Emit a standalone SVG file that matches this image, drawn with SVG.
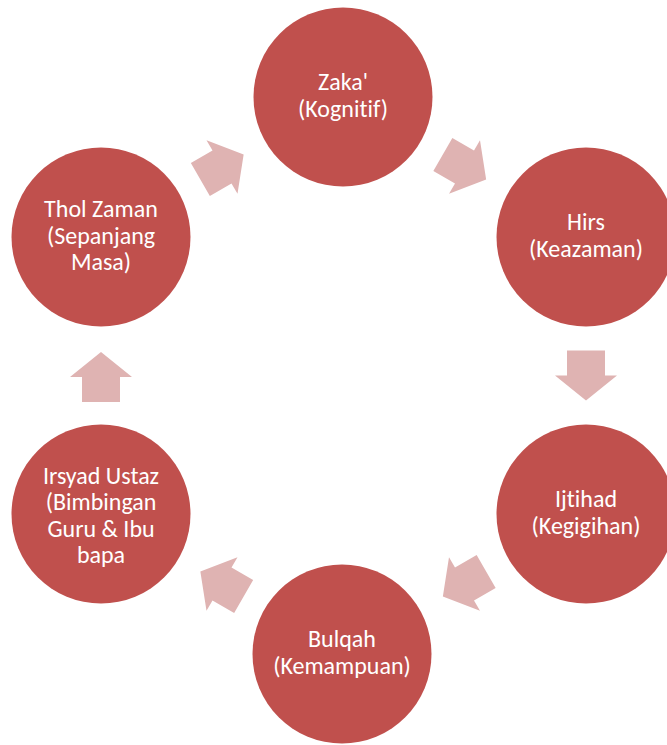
<svg xmlns="http://www.w3.org/2000/svg" width="667" height="745" viewBox="0 0 667 745">
  <style>
    .node { fill: #C0504D; }
    .arrow { fill: #DFB3B2; }
    .label { fill: #FFFFFF; font-family: Carlito, Lato, "Liberation Sans", sans-serif; font-size: 24px; text-anchor: middle; font-variant-ligatures: none; font-feature-settings: "liga" 0, "clig" 0; }
  </style>
  <defs>
    <path id="blockArrow" d="M -25,-19 L 0,-19 L 0,-31 L 25,0 L 0,31 L 0,19 L -25,19 Z"/>
  </defs>
  <rect x="0" y="0" width="667" height="745" fill="#FFFFFF"/>
  <g id="connectors">
    <use href="#blockArrow" class="arrow" transform="translate(222,167) rotate(-30)"/>
    <use href="#blockArrow" class="arrow" transform="translate(464.5,167) rotate(30)"/>
    <use href="#blockArrow" class="arrow" transform="translate(586,375.5) rotate(90)"/>
    <use href="#blockArrow" class="arrow" transform="translate(464.5,584) rotate(150)"/>
    <use href="#blockArrow" class="arrow" transform="translate(222,584) rotate(210)"/>
    <use href="#blockArrow" class="arrow" transform="translate(101,377) rotate(270)"/>
  </g>
  <g id="zaka">
    <circle class="node" cx="343" cy="97" r="89.5"/>
    <text class="label" x="343" y="90">Zaka'</text>
    <text class="label" x="343" y="116.5">(Kognitif)</text>
  </g>
  <g id="hirs">
    <circle class="node" cx="586" cy="237" r="89.5"/>
    <text class="label" x="586" y="230">Hirs</text>
    <text class="label" x="586" y="256.5">(Keazaman)</text>
  </g>
  <g id="ijtihad">
    <circle class="node" cx="586" cy="514" r="89.5"/>
    <text class="label" x="586" y="507">Ijtihad</text>
    <text class="label" x="586" y="533.5">(Kegigihan)</text>
  </g>
  <g id="bulqah">
    <circle class="node" cx="342" cy="654" r="89.5"/>
    <text class="label" x="342" y="647">Bulqah</text>
    <text class="label" x="342" y="673.5">(Kemampuan)</text>
  </g>
  <g id="irsyad">
    <circle class="node" cx="101" cy="514" r="89.5"/>
    <text class="label" x="101" y="483.5">Irsyad Ustaz</text>
    <text class="label" x="101" y="510">(Bimbingan</text>
    <text class="label" x="101" y="536.5">Guru &amp; Ibu</text>
    <text class="label" x="101" y="563">bapa</text>
  </g>
  <g id="thol">
    <circle class="node" cx="101" cy="237" r="89.5"/>
    <text class="label" x="101" y="217">Thol Zaman</text>
    <text class="label" x="101" y="243.5">(Sepanjang</text>
    <text class="label" x="101" y="270">Masa)</text>
  </g>
</svg>
